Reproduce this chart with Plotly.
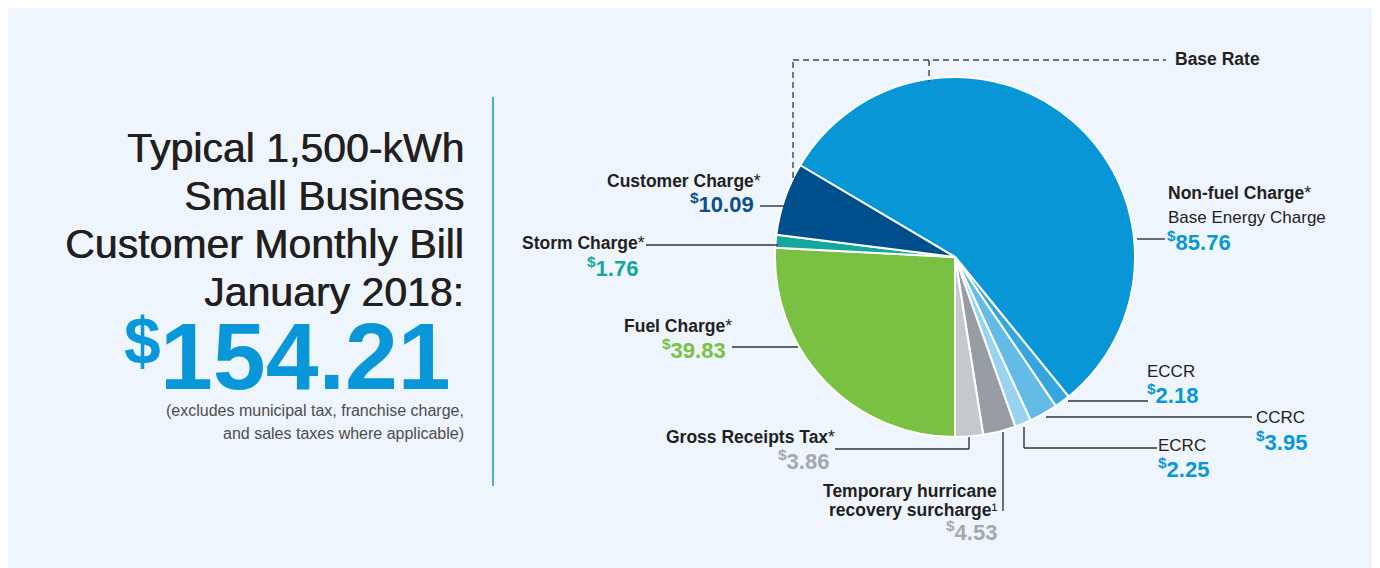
import plotly.graph_objects as go

# ---- data ----
categories = ["Non-fuel Charge", "ECCR", "CCRC", "ECRC",
              "Temporary hurricane recovery surcharge", "Gross Receipts Tax",
              "Fuel Charge", "Storm Charge", "Customer Charge"]
values = [85.76, 2.18, 3.95, 2.25, 4.53, 3.86, 39.83, 1.76, 10.09]
slice_colors = ["#0896d6", "#35a6de", "#63bce6", "#98d3f0", "#979da3",
                "#c4c9ce", "#7ac143", "#14a89d", "#004e8b"]
total = 154.21

# page has an 8px body margin
OFF = 8
W, H = 1380 - OFF, 568 - OFF
def px(x): return (x - OFF) / W
def py(y): return 1 - (y - OFF) / H

FONT = "Liberation Sans, Arial, sans-serif"
DARK = "#231f20"
BLUE = "#0a97d9"

# rotation so that the Fuel Charge slice starts at 6 o'clock
before_fuel = sum(values[:6])
rotation = 180 - before_fuel / sum(values) * 360

fig = go.Figure(go.Pie(
    labels=categories, values=values, sort=False, direction="clockwise",
    rotation=rotation, marker=dict(colors=slice_colors, line=dict(color="white", width=2)),
    textinfo="none", hoverinfo="label+value", showlegend=False,
    domain=dict(x=[px(775), px(1135)], y=[py(437), py(77)])
))

shapes = []
# divider
shapes.append(dict(type="line", xref="paper", yref="paper", x0=px(493), x1=px(493), y0=py(97), y1=py(486),
                   line=dict(color="#1a8fd0", width=1.5)))

def seg(x0, y0, x1, y1, dash=None, color="#333335"):
    ln = dict(color=color, width=1.4)
    if dash:
        ln["dash"] = dash
    shapes.append(dict(type="line", xref="paper", yref="paper", x0=px(x0), y0=py(y0), x1=px(x1), y1=py(y1), line=ln))

# Base rate dashed bracket
seg(793, 178, 793, 60, dash="6px,4px", color="#444446")
seg(793, 60, 1166, 60, dash="6px,4px", color="#444446")
seg(929, 60, 929, 82, dash="6px,4px", color="#444446")
# leader lines
seg(760, 206, 784, 206)            # customer
seg(646, 245, 778, 245)            # storm
seg(732, 347, 798, 347)            # fuel
seg(1137, 239, 1165, 239)          # non-fuel
seg(1068, 401, 1148, 401)          # ECCR
seg(1046, 417, 1252, 417)          # CCRC
seg(1024, 427, 1024, 448); seg(1024, 448, 1157, 448)   # ECRC
seg(835, 449, 969, 449); seg(969, 449, 969, 437)       # gross receipts
seg(1003, 432, 1003, 511)          # hurricane

ann = []
def text(x, y, s, size, color=DARK, anchor="left", bold=False, shadow=None):
    if bold:
        s = "<b>" + s + "</b>"
    f = dict(family=FONT, size=size, color=color)
    if shadow:
        f["shadow"] = shadow
    ann.append(dict(xref="paper", yref="paper", x=px(x), y=py(y), text=s, showarrow=False,
                    xanchor=anchor, yanchor="middle", align=anchor, font=f))

def money(v):
    return "<b><sup>$</sup>%.2f</b>" % v

LBL = 17.5
VAL = 22

# left title block
title_lines = ["Typical 1,500-kWh", "Small Business", "Customer Monthly Bill", "January 2018:"]
for i, t in enumerate(title_lines):
    text(466, 148 + i * 48, t, 41, color=DARK, anchor="right",
         shadow="0.6px 0px 0px #231f20")
text(453, 356, "<b>154.21</b>", 95, color=BLUE, anchor="right")
text(142, 341, "<b>$</b>", 66, color=BLUE, anchor="center")
text(466, 410, "(excludes municipal tax, franchise charge,", 16, color="#4d4d4f", anchor="right")
text(466, 433, "and sales taxes where applicable)", 16, color="#4d4d4f", anchor="right")

# slice labels
text(1173, 59, "Base Rate", LBL, bold=True)
text(763, 181, "<b>Customer Charge</b>*", LBL, anchor="right")
text(756, 203, money(values[8]), VAL, color="#0a4f8f", anchor="right")
text(647, 243, "<b>Storm Charge</b>*", LBL, anchor="right")
text(640, 267, money(values[7]), VAL, color="#14a89b", anchor="right")
text(734, 326, "<b>Fuel Charge</b>*", LBL, anchor="right")
text(728, 349, money(values[6]), VAL, color="#79c043", anchor="right")
text(1166, 193, "<b>Non-fuel Charge</b>*", LBL)
text(1166, 217, "Base Energy Charge", 17)
text(1165, 241, money(values[0]), VAL, color=BLUE)
text(1145, 371, "ECCR", 17)
text(1145, 394, money(values[1]), VAL, color=BLUE)
text(1254, 417, "CCRC", 17)
text(1254, 441, money(values[2]), VAL, color=BLUE)
text(1156, 445, "ECRC", 17)
text(1156, 468, money(values[3]), VAL, color=BLUE)
text(837, 437, "<b>Gross Receipts Tax</b>*", LBL, anchor="right")
text(831, 460, money(values[5]), VAL, color="#a5a9ad", anchor="right")
text(999, 491, "<b>Temporary hurricane</b>", LBL, anchor="right")
text(999, 510, "<b>recovery surcharge</b>¹", LBL, anchor="right")
text(999, 531, money(values[4]), VAL, color="#a5a9ad", anchor="right")

fig.update_layout(width=W, height=H, autosize=False, margin=dict(l=0, r=0, t=0, b=0),
                  paper_bgcolor="#eff5fc", plot_bgcolor="#eff5fc",
                  shapes=shapes, annotations=ann)
fig.write_html("out.html", config={"responsive": False})
